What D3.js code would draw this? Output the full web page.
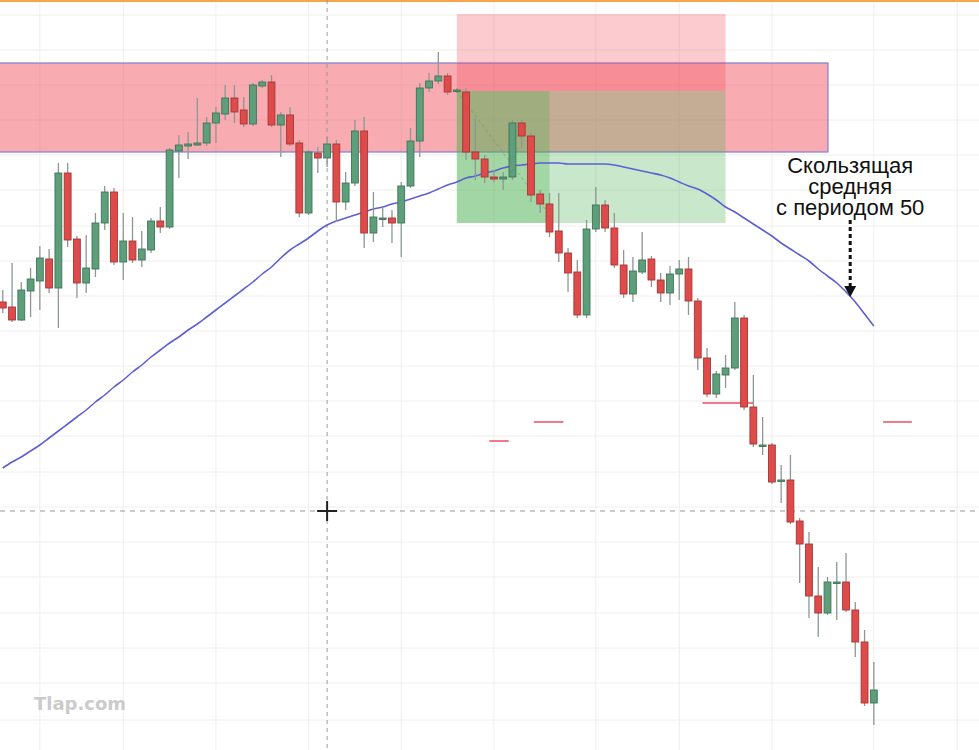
<!DOCTYPE html>
<html>
<head>
<meta charset="utf-8">
<script src="https://cdn.jsdelivr.net/npm/d3@7"></script>
<style>
  body { margin: 0; background: #fff; }
  svg { display: block; }
</style>
</head>
<body>
<script>
// candle data, one entry per bar (price values)
var opens = [1.3170,1.3165,1.3152,1.3181,1.3191,1.3213,1.3184,1.3299,1.3233,1.3189,
  1.3203,1.3249,1.3280,1.3210,1.3231,1.3212,1.3222,1.3251,1.3245,1.3321,
  1.3326,1.3327,1.3329,1.3349,1.3358,1.3374,1.3362,1.3348,1.3386,1.3390,
  1.3347,1.3357,1.3329,1.3259,1.3319,1.3314,1.3328,1.3270,1.3289,1.3341,
  1.3239,1.3253,1.3254,1.3249,1.3286,1.3331,1.3384,1.3391,1.3396,1.3381,
  1.3380,1.3320,1.3313,1.3295,1.3293,1.3295,1.3349,1.3336,1.3278,1.3268,
  1.3241,1.3219,1.3200,1.3157,1.3243,1.3267,1.3244,1.3207,1.3178,1.3200,
  1.3213,1.3192,1.3179,1.3198,1.3203,1.3171,1.3114,1.3078,1.3097,1.3104,
  1.3154,1.3065,1.3026,1.3027,1.2991,1.2992,1.2951,1.2928,1.2876,1.2859,
  1.2889,1.2890,1.2862,1.2830,1.2769];
var highs = [1.3182,1.3209,1.3190,1.3204,1.3226,1.3223,1.3309,1.3309,1.3236,1.3237,
  1.3259,1.3286,1.3284,1.3259,1.3255,1.3241,1.3254,1.3265,1.3324,1.3337,
  1.3340,1.3374,1.3355,1.3365,1.3387,1.3387,1.3375,1.3389,1.3392,1.3397,
  1.3360,1.3365,1.3332,1.3322,1.3325,1.3335,1.3332,1.3300,1.3352,1.3355,
  1.3280,1.3265,1.3262,1.3290,1.3344,1.3389,1.3399,1.3420,1.3399,1.3384,
  1.3384,1.3354,1.3317,1.3302,1.3300,1.3352,1.3352,1.3339,1.3282,1.3279,
  1.3279,1.3224,1.3212,1.3252,1.3285,1.3272,1.3259,1.3222,1.3215,1.3240,
  1.3216,1.3199,1.3206,1.3212,1.3215,1.3174,1.3124,1.3101,1.3117,1.3170,
  1.3157,1.3097,1.3055,1.3029,1.3007,1.3017,1.2954,1.2940,1.2905,1.2895,
  1.2910,1.2919,1.2870,1.2842,1.2810];
var lows = [1.3159,1.3150,1.3151,1.3155,1.3162,1.3179,1.3144,1.3225,1.3174,1.3179,
  1.3195,1.3242,1.3207,1.3192,1.3209,1.3205,1.3219,1.3239,1.3243,1.3294,
  1.3313,1.3326,1.3326,1.3329,1.3352,1.3349,1.3345,1.3346,1.3384,1.3345,
  1.3315,1.3326,1.3255,1.3257,1.3299,1.3305,1.3250,1.3262,1.3286,1.3224,
  1.3230,1.3245,1.3229,1.3215,1.3284,1.3315,1.3380,1.3388,1.3377,1.3379,
  1.3312,1.3292,1.3289,1.3290,1.3282,1.3292,1.3324,1.3270,1.3259,1.3235,
  1.3210,1.3180,1.3154,1.3154,1.3240,1.3240,1.3204,1.3174,1.3170,1.3198,
  1.3185,1.3170,1.3167,1.3172,1.3157,1.3102,1.3075,1.3074,1.3084,1.3102,
  1.3062,1.3025,1.3017,1.2988,1.2969,1.2948,1.2889,1.2854,1.2835,1.2857,
  1.2852,1.2860,1.2815,1.2766,1.2747];
var closes = [1.3164,1.3152,1.3182,1.3193,1.3214,1.3184,1.3299,1.3232,1.3189,1.3204,
  1.3249,1.3280,1.3210,1.3231,1.3212,1.3223,1.3251,1.3245,1.3322,1.3327,
  1.3328,1.3329,1.3349,1.3359,1.3374,1.3360,1.3348,1.3387,1.3390,1.3347,
  1.3357,1.3328,1.3259,1.3320,1.3314,1.3328,1.3270,1.3289,1.3341,1.3239,
  1.3255,1.3254,1.3249,1.3286,1.3331,1.3384,1.3391,1.3396,1.3380,1.3382,
  1.3320,1.3313,1.3295,1.3293,1.3295,1.3349,1.3336,1.3277,1.3268,1.3240,
  1.3219,1.3199,1.3157,1.3243,1.3267,1.3244,1.3207,1.3178,1.3201,1.3212,
  1.3192,1.3179,1.3198,1.3203,1.3171,1.3114,1.3078,1.3098,1.3104,1.3154,
  1.3065,1.3028,1.3027,1.2990,1.2992,1.2950,1.2928,1.2876,1.2859,1.2890,
  1.2890,1.2862,1.2830,1.2769,1.2782];

// moving average (period 50), one value per bar
var maValues = [1.3004,1.3010,1.3015,1.3021,1.3027,1.3034,1.3041,1.3048,1.3055,1.3062,
  1.3070,1.3077,1.3085,1.3092,1.3100,1.3107,1.3115,1.3122,1.3129,1.3135,
  1.3142,1.3148,1.3155,1.3162,1.3169,1.3176,1.3183,1.3190,1.3198,1.3205,
  1.3214,1.3222,1.3228,1.3234,1.3241,1.3247,1.3251,1.3254,1.3257,1.3260,
  1.3263,1.3265,1.3268,1.3270,1.3273,1.3276,1.3279,1.3283,1.3287,1.3290,
  1.3294,1.3296,1.3299,1.3301,1.3304,1.3306,1.3307,1.3308,1.3309,1.3309,
  1.3309,1.3308,1.3308,1.3308,1.3308,1.3308,1.3307,1.3305,1.3303,1.3301,
  1.3299,1.3297,1.3294,1.3290,1.3286,1.3283,1.3278,1.3272,1.3265,1.3260,
  1.3254,1.3248,1.3242,1.3236,1.3229,1.3223,1.3217,1.3211,1.3203,1.3196,
  1.3189,1.3180,1.3170,1.3158,1.3146];

// grid positions (bar index / price)
var gridBars = [4, 13, 23, 33, 43, 53, 64, 73, 83, 94, 103];
var gridPrices = [1.3457,1.3422,1.3387,1.3352,1.3317,1.3282,1.3246,1.3211,1.3176,1.3141,
  1.3106,1.3071,1.3036,1.3000,1.2965,1.2930,1.2895,1.2859,1.2824,1.2789,1.2752];

// resistance zone: [startBar, endBar, low, high]
var zone = [-1, 89.05, 1.3320, 1.3409];
// short position: [startBar, endBar, filledBar, stop, entry, target, exitPrice]
var trade = [49, 78, 59, 1.3458, 1.3381, 1.3249, 1.3257];
// small red price marks: [startBar, endBar, price]
var marks = [[52.5, 54.6, 1.3031], [57.3, 60.5, 1.3050], [75.5, 81, 1.3069], [95, 98.1, 1.3050]];
// crosshair [bar, price]
var cross = [35, 1.2961];
// annotation arrow [bar, fromPrice, toPrice]
var arrow = [91.45, 1.3252, 1.3175];
var noteLines = ["Скользящая", "средняя", "с периодом 50"];

var width = 979, height = 750;

var svg = d3.select("body").append("svg")
    .attr("width", width)
    .attr("height", height);

var x = d3.scaleLinear()
    .domain([-0.3, 105.35])
    .range([0, width]);

var y = d3.scaleLinear()
    .domain([1.2722, 1.3472])
    .range([height, 0]);

var step = x(1) - x(0);
var bodyW = step * 0.74;

// grid
svg.append("g").selectAll("line")
    .data(gridBars)
    .enter().append("line")
    .attr("x1", function(d){ return x(d); })
    .attr("x2", function(d){ return x(d); })
    .attr("y1", 0).attr("y2", height)
    .attr("stroke", "#eeeeee");

svg.append("g").selectAll("line")
    .data(gridPrices)
    .enter().append("line")
    .attr("y1", function(d){ return y(d); })
    .attr("y2", function(d){ return y(d); })
    .attr("x1", 0).attr("x2", width)
    .attr("stroke", "#eeeeee");

// top orange border
svg.append("rect")
    .attr("x", 0).attr("y", 0)
    .attr("width", width).attr("height", 2)
    .attr("fill", "#f6a54a");

// resistance zone
svg.append("rect")
    .attr("x", x(zone[0]))
    .attr("y", y(zone[3]))
    .attr("width", x(zone[1]) - x(zone[0]))
    .attr("height", y(zone[2]) - y(zone[3]))
    .attr("fill", "#f25a66")
    .attr("fill-opacity", 0.5)
    .attr("stroke", "#7f7fd2")
    .attr("stroke-width", 1.2);

// short position: stop area, target area, realised part
svg.append("rect")
    .attr("x", x(trade[0]))
    .attr("y", y(trade[3]))
    .attr("width", x(trade[1]) - x(trade[0]))
    .attr("height", y(trade[4]) - y(trade[3]))
    .attr("fill", "#f23645")
    .attr("fill-opacity", 0.26);

svg.append("rect")
    .attr("x", x(trade[0]))
    .attr("y", y(trade[4]))
    .attr("width", x(trade[1]) - x(trade[0]))
    .attr("height", y(trade[5]) - y(trade[4]))
    .attr("fill", "#4caf50")
    .attr("fill-opacity", 0.3);

svg.append("rect")
    .attr("x", x(trade[0]))
    .attr("y", y(trade[4]))
    .attr("width", x(trade[2]) - x(trade[0]))
    .attr("height", y(trade[5]) - y(trade[4]))
    .attr("fill", "#4caf50")
    .attr("fill-opacity", 0.3);

svg.append("line")
    .attr("x1", x(trade[0])).attr("y1", y(trade[4]))
    .attr("x2", x(trade[2])).attr("y2", y(trade[6]))
    .attr("stroke", "#7a8a7a")
    .attr("stroke-opacity", 0.6)
    .attr("stroke-dasharray", "3,3");

// crosshair
svg.append("line")
    .attr("x1", x(cross[0])).attr("x2", x(cross[0]))
    .attr("y1", 0).attr("y2", height)
    .attr("stroke", "#9a9a9a")
    .attr("stroke-dasharray", "4,4");

svg.append("line")
    .attr("x1", 0).attr("x2", width)
    .attr("y1", y(cross[1])).attr("y2", y(cross[1]))
    .attr("stroke", "#9a9a9a")
    .attr("stroke-dasharray", "5,5");

// moving average
var bars = d3.range(opens.length);

var maLine = d3.line()
    .x(function(d){ return x(d); })
    .y(function(d){ return y(maValues[d]); })
    .curve(d3.curveMonotoneX);

svg.append("path")
    .datum(bars)
    .attr("d", maLine)
    .attr("fill", "none")
    .attr("stroke", "#5f5fd4")
    .attr("stroke-width", 1.6);

// small price marks
svg.append("g").selectAll("line")
    .data(marks)
    .enter().append("line")
    .attr("x1", function(d){ return x(d[0]); })
    .attr("x2", function(d){ return x(d[1]); })
    .attr("y1", function(d){ return y(d[2]); })
    .attr("y2", function(d){ return y(d[2]); })
    .attr("stroke", "#f07a8a")
    .attr("stroke-width", 2);

// candles
var candle = svg.append("g").selectAll("g")
    .data(bars)
    .enter().append("g");

candle.append("line")
    .attr("x1", function(d){ return x(d); })
    .attr("x2", function(d){ return x(d); })
    .attr("y1", function(d){ return y(highs[d]); })
    .attr("y2", function(d){ return y(lows[d]); })
    .attr("stroke", "#8e9792")
    .attr("stroke-width", 1.3);

candle.append("rect")
    .attr("x", function(d){ return x(d) - bodyW / 2; })
    .attr("width", bodyW)
    .attr("y", function(d){ return y(Math.max(opens[d], closes[d])); })
    .attr("height", function(d){
        return Math.max(1.5, Math.abs(y(opens[d]) - y(closes[d])));
    })
    .attr("fill", function(d){ return closes[d] >= opens[d] ? "#5e9f7b" : "#dd4b4b"; })
    .attr("stroke", function(d){ return closes[d] >= opens[d] ? "#3e7458" : "#a83434"; })
    .attr("stroke-width", 0.9);

// cross marker
var cx = x(cross[0]), cy = y(cross[1]);
svg.append("path")
    .attr("d", "M" + (cx - 10) + "," + cy + "H" + (cx + 10) + "M" + cx + "," + (cy - 10) + "V" + (cy + 10))
    .attr("stroke", "#222")
    .attr("stroke-width", 2);

// annotation
var ax = x(arrow[0]);
svg.append("g").selectAll("text")
    .data(noteLines)
    .enter().append("text")
    .attr("x", ax)
    .attr("y", function(d, i){ return y(arrow[1]) - 47 + i * 21; })
    .attr("text-anchor", "middle")
    .style("font-family", "'Liberation Sans', Arial, sans-serif")
    .style("font-size", "22px")
    .attr("fill", "#111")
    .text(function(d){ return d; });

svg.append("line")
    .attr("x1", ax).attr("x2", ax)
    .attr("y1", y(arrow[1])).attr("y2", y(arrow[2]) - 10)
    .attr("stroke", "#111")
    .attr("stroke-width", 3)
    .attr("stroke-dasharray", "4,3");

svg.append("path")
    .attr("d", "M" + (ax - 6) + "," + (y(arrow[2]) - 11) + "L" + (ax + 6) + "," + (y(arrow[2]) - 11) + "L" + ax + "," + y(arrow[2]) + "Z")
    .attr("fill", "#111");

// watermark
svg.append("text")
    .attr("x", 34)
    .attr("y", 710)
    .style("font-family", "'DejaVu Sans', sans-serif")
    .style("font-weight", "bold")
    .style("font-size", "18px")
    .attr("fill", "#cbcbcb")
    .text("Tlap.com");
</script>
</body>
</html>
